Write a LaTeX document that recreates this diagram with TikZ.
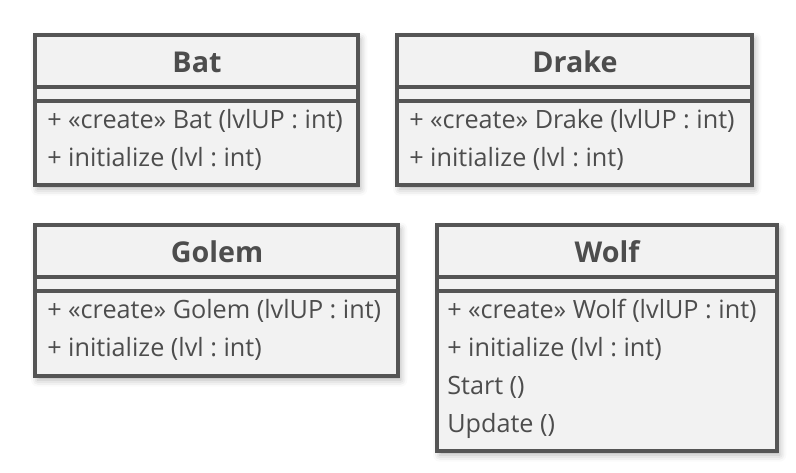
\documentclass[tikz,border=0pt]{standalone}
\usepackage{fontspec}
\setmainfont{Open Sans}
\usetikzlibrary{shadows.blur}
\definecolor{boxline}{HTML}{555555}
\definecolor{boxfill}{HTML}{F2F2F2}
\definecolor{txt}{HTML}{4D4D4D}
\frenchspacing
\begin{document}
\begin{tikzpicture}[x = 0.75pt, y = -0.75pt,
	box/.style = {draw = boxline, fill = boxfill, line width = 2.6pt, blur shadow = {shadow xshift = 2pt, shadow yshift = -3pt, shadow blur radius = 5pt, shadow opacity = 30}},
	sep/.style = {draw = boxline, line width = 2.6pt},
	title/.style = {font = \fontsize{21.5}{25}\selectfont\bfseries, text = txt, anchor = base, inner sep = 0},
	member/.style = {font = \fontsize{18.9}{22}\selectfont, text = txt, anchor = base west, inner sep = 0}]
	\useasboundingbox (0,0) rectangle (796,472);
	% Bat
	\draw[box] (35,35) rectangle (358,185);
	\draw[sep] (35,87) -- (358,87);
	\draw[sep] (35,101) -- (358,101);
	\node[title] (bat) at (197,72) {Bat};
	\node[member] (bat1) at (47,128) {+ «create» Bat (lvlUP : int)};
	\node[member] (bat2) at (47,166) {+ initialize (lvl : int)};
	% Drake
	\draw[box] (397,35) rectangle (752,185);
	\draw[sep] (397,87) -- (752,87);
	\draw[sep] (397,101) -- (752,101);
	\node[title] (drake) at (575,72) {Drake};
	\node[member] (drake1) at (409,128) {+ «create» Drake (lvlUP : int)};
	\node[member] (drake2) at (409,166) {+ initialize (lvl : int)};
	% Golem
	\draw[box] (35,225) rectangle (398,376);
	\draw[sep] (35,277) -- (398,277);
	\draw[sep] (35,291) -- (398,291);
	\node[title] (golem) at (217,262) {Golem};
	\node[member] (golem1) at (47,318) {+ «create» Golem (lvlUP : int)};
	\node[member] (golem2) at (47,356) {+ initialize (lvl : int)};
	% Wolf
	\draw[box] (437,225) rectangle (777,451);
	\draw[sep] (437,277) -- (777,277);
	\draw[sep] (437,291) -- (777,291);
	\node[title] (wolf) at (607,262) {Wolf};
	\node[member] (wolf1) at (447,318) {+ «create» Wolf (lvlUP : int)};
	\node[member] (wolf2) at (447,356) {+ initialize (lvl : int)};
	\node[member] (wolf3) at (447,394) {Start ()};
	\node[member] (wolf4) at (447,432) {Update ()};
\end{tikzpicture}
\end{document}
